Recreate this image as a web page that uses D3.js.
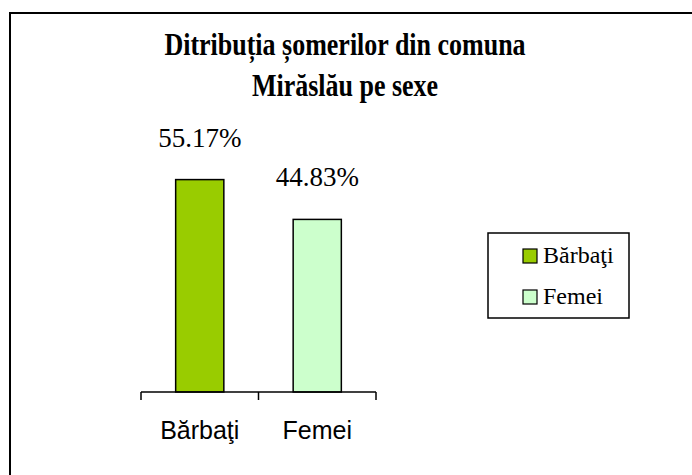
<!DOCTYPE html>
<meta charset="utf-8">
<style>
body { margin: 0; background: #fff; }
text { fill: #000; }
.title { font: bold 26px "Liberation Serif", serif; text-anchor: middle; }
.value { font: 27px "Liberation Serif", serif; text-anchor: middle; }
.cat { font: 25px "Liberation Sans", Arial, sans-serif; text-anchor: middle; }
.legend text { font: 24px "Liberation Serif", serif; }
</style>
<body>
<script src="https://cdn.jsdelivr.net/npm/d3@7"></script>
<script>

var categories = ["Bărbaţi", "Femei"];
var legendLabels = ["Bărbaţi", "Femei"];
var values = [55.17, 44.83];
var valueLabels = ["55.17%", "44.83%"];
var titleLines = ["Ditribuția șomerilor din comuna", "Mirăslău pe sexe"];

var width = 692,
    height = 475;

var color = d3.scaleOrdinal()
    .domain(categories)
    .range(["#99cc00", "#ccffcc"]);

var svg = d3.select("body").append("svg")
    .attr("width", width)
    .attr("height", height);

// outer frame (runs off the right and bottom edge)
svg.append("rect")
    .attr("x", 10)
    .attr("y", 13)
    .attr("width", 720)
    .attr("height", 520)
    .attr("fill", "none")
    .attr("stroke", "#000")
    .attr("stroke-width", 2);

/*
  Title
*/

svg.selectAll(".title")
    .data(titleLines)
    .enter().append("text")
    .attr("class", "title")
    .attr("transform", function(d, i) { return "translate(345," + (55 + i * 41) + ") scale(1,1.18)"; })
    .text(function(d) { return d; });

/*
  Scales
*/

var x = d3.scaleBand()
    .domain(categories)
    .range([141, 376]);

var y = d3.scaleLinear()
    .domain([0, 60])
    .range([392, 161]);

var barWidth = x.bandwidth() * 0.41;

var g = svg.selectAll(".bar")
    .data(categories)
    .enter().append("g")
    .attr("class", "bar");

g.append("rect")
    .attr("x", function(d) { return x(d) + (x.bandwidth() - barWidth) / 2; })
    .attr("y", function(d, i) { return y(values[i]); })
    .attr("width", barWidth)
    .attr("height", function(d, i) { return y(0) - y(values[i]); })
    .attr("fill", function(d) { return color(d); })
    .attr("stroke", "#000")
    .attr("stroke-width", 1.5);

g.append("text")
    .attr("class", "value")
    .attr("x", function(d) { return x(d) + x.bandwidth() / 2; })
    .attr("y", function(d, i) { return y(values[i]) - 33; })
    .text(function(d, i) { return valueLabels[i]; });

/*
  Axis: labels from axisBottom, ticks at band edges
*/

var axis = svg.append("g")
    .attr("transform", "translate(0," + y(0) + ")")
    .call(d3.axisBottom(x).tickSize(0).tickPadding(0));

axis.select(".domain").remove();
axis.selectAll("text")
    .attr("class", "cat")
    .attr("dy", null)
    .attr("y", 47)
    .attr("fill", "#000")
    .style("font", null);

axis.append("line")
    .attr("x1", x.range()[0])
    .attr("x2", x.range()[1])
    .attr("stroke", "#000")
    .attr("stroke-width", 1.5);

axis.selectAll(".edge")
    .data(categories.map(function(d) { return x(d); }).concat([x.range()[1]]))
    .enter().append("line")
    .attr("class", "edge")
    .attr("x1", function(d) { return d; })
    .attr("x2", function(d) { return d; })
    .attr("y1", 0)
    .attr("y2", 8)
    .attr("stroke", "#000")
    .attr("stroke-width", 1.5);

/*
  Legend
*/

var legend = svg.append("g")
    .attr("class", "legend")
    .attr("transform", "translate(488,233)");

legend.append("rect")
    .attr("width", 141)
    .attr("height", 85)
    .attr("fill", "#fff")
    .attr("stroke", "#000")
    .attr("stroke-width", 1.5);

var item = legend.selectAll(".item")
    .data(legendLabels)
    .enter().append("g")
    .attr("class", "item")
    .attr("transform", function(d, i) { return "translate(35," + (22 + i * 41) + ")"; });

item.append("rect")
    .attr("width", 14)
    .attr("height", 14)
    .attr("y", -6)
    .attr("fill", function(d) { return color(d); })
    .attr("stroke", "#000")
    .attr("stroke-width", 1.2);

item.append("text")
    .attr("x", 20)
    .attr("y", 8)
    .text(function(d) { return d; });

</script>
